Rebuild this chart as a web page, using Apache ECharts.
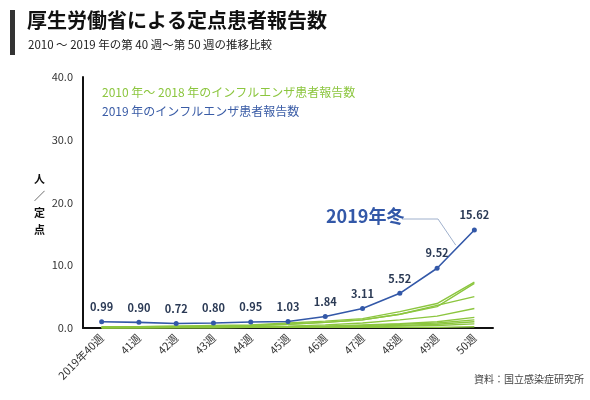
<!doctype html>
<html lang="ja">
<head>
    <meta charset="utf-8">
    <title>定点患者報告数</title>
    <script src="https://cdn.jsdelivr.net/npm/echarts@6/dist/echarts.min.js"></script>
    <style>
        html, body { margin: 0; padding: 0; background: #fff; }
        #main { width: 590px; height: 400px; }
    </style>
</head>
<body>
    <div id="main"></div>
    <script type="text/javascript">
        var weeks = ['2019年40週', '41週', '42週', '43週', '44週', '45週', '46週', '47週', '48週', '49週', '50週'];
        var yTicks = ['0.0', '10.0', '20.0', '30.0', '40.0'];

        // 2019年
        var y2019 = [0.99, 0.90, 0.72, 0.80, 0.95, 1.03, 1.84, 3.11, 5.52, 9.52, 15.62];

        // 2010～2018年
        var pastA = [0.2, 0.2, 0.3, 0.4, 0.5, 0.8, 1.1, 1.5, 2.6, 3.9, 7.3];
        var pastB = [0.1, 0.1, 0.2, 0.3, 0.4, 0.6, 0.9, 1.3, 2.2, 3.4, 7.1];
        var pastC = [0.2, 0.2, 0.3, 0.3, 0.4, 0.6, 0.9, 1.3, 2.2, 3.6, 5.0];
        var pastD = [0.1, 0.1, 0.1, 0.2, 0.2, 0.3, 0.5, 0.8, 1.3, 1.9, 3.1];
        var pastE = [0.1, 0.1, 0.1, 0.1, 0.2, 0.2, 0.3, 0.5, 0.7, 1.0, 1.7];
        var pastF = [0.1, 0.1, 0.1, 0.1, 0.1, 0.2, 0.3, 0.4, 0.6, 0.8, 1.3];
        var pastG = [0.0, 0.1, 0.1, 0.1, 0.1, 0.2, 0.2, 0.3, 0.4, 0.6, 1.0];
        var pastH = [0.0, 0.0, 0.1, 0.1, 0.1, 0.1, 0.2, 0.2, 0.3, 0.4, 0.65];
        var pastI = [0.0, 0.0, 0.0, 0.0, 0.1, 0.1, 0.1, 0.1, 0.1, 0.1, 0.2];
        var pastList = [pastA, pastB, pastC, pastD, pastE, pastF, pastG, pastH, pastI];

        var greenName = '2010 年～ 2018 年のインフルエンザ患者報告数';
        var blueName = '2019 年のインフルエンザ患者報告数';
        var font = '"Noto Sans CJK JP", "Noto Sans", sans-serif';

        var series = [];
        pastList.forEach(function (d) {
            series.push({
                name: greenName,
                type: 'line',
                data: d,
                symbol: 'none',
                silent: true,
                lineStyle: { color: '#8cc63f', width: 1.4 },
                itemStyle: { color: '#8cc63f' },
                z: 2
            });
        });
        series.push({
            name: blueName,
            type: 'line',
            data: y2019,
            symbol: 'circle',
            symbolSize: 5,
            lineStyle: { color: '#3358a8', width: 1.6 },
            itemStyle: { color: '#3358a8' },
            label: {
                show: true,
                position: 'top',
                distance: 7,
                formatter: function (p) { return p.value.toFixed(2); },
                color: '#2b3a55',
                fontWeight: 'bold',
                fontSize: 11,
                fontFamily: font
            },
            z: 5
        });

        var chart = echarts.init(document.getElementById('main'));
        var option = {
            animation: false,
            textStyle: { fontFamily: font },
            grid: { left: 83, right: 97, top: 77, bottom: 72 },
            legend: {
                data: [
                    { name: greenName, textStyle: { color: '#8cc63f' } },
                    { name: blueName, textStyle: { color: '#3a5ca6' } }
                ],
                orient: 'vertical',
                left: 92,
                top: 80,
                icon: 'none',
                itemWidth: 0,
                itemGap: 6,
                selectedMode: false,
                textStyle: { fontSize: 12, fontFamily: font }
            },
            xAxis: {
                type: 'category',
                data: weeks,
                boundaryGap: true,
                axisLine: { lineStyle: { color: '#111', width: 2 } },
                axisTick: { show: false },
                axisLabel: { rotate: 45, color: '#333', fontSize: 11, margin: 8, interval: 0 }
            },
            yAxis: {
                type: 'value',
                min: 0,
                max: 40,
                interval: 10,
                axisLine: { show: true, lineStyle: { color: '#111', width: 2 } },
                axisTick: { show: false },
                splitLine: { show: false },
                axisLabel: {
                    color: '#333',
                    fontSize: 11,
                    margin: 10,
                    formatter: function (v) { return yTicks[v / 10]; }
                }
            },
            graphic: [
                { type: 'rect', left: 10, top: 10, shape: { width: 5, height: 45 }, style: { fill: '#333' } },
                { type: 'text', left: 27, top: 10, style: { text: '厚生労働省による定点患者報告数', font: 'bold 20px ' + font, fill: '#111' } },
                { type: 'text', left: 28, top: 39, style: { text: '2010 ～ 2019 年の第 40 週～第 50 週の推移比較', font: '11.5px ' + font, fill: '#222' } },
                { type: 'text', left: 34, top: 170, style: { text: '人\n／\n定\n点', font: 'bold 11px ' + font, fill: '#111', lineHeight: 17, align: 'center' } },
                { type: 'text', left: 474, top: 374, style: { text: '資料：国立感染症研究所', font: '10px ' + font, fill: '#444' } }
            ],
            series: series
        };
        chart.setOption(option);

        // 「2019年冬」の引き出し線
        var p49 = chart.convertToPixel({ seriesIndex: series.length - 1 }, [9, y2019[9]]);
        var p50 = chart.convertToPixel({ seriesIndex: series.length - 1 }, [10, y2019[10]]);
        var tip = [(p49[0] + p50[0]) / 2, (p49[1] + p50[1]) / 2 - 4];
        var g = option.graphic.slice();
        g.push({
            type: 'polyline',
            shape: { points: [[402, 219], [438, 219], tip] },
            style: { stroke: '#9fb0cc', lineWidth: 1, fill: null }
        });
        g.push({
            type: 'text', left: 326, top: 207,
            style: { text: '2019年冬', font: 'bold 18px ' + font, fill: '#3358a8' }
        });
        chart.setOption({ graphic: g });
    </script>
</body>
</html>
